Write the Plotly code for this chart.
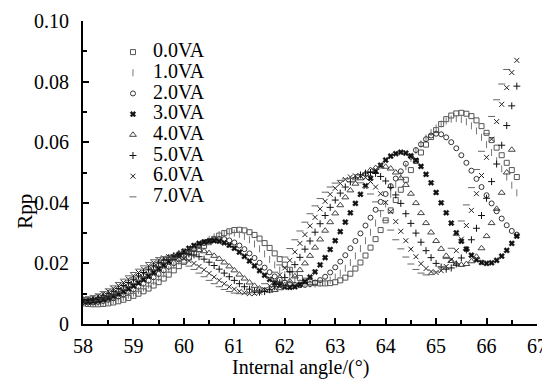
import numpy as np
import plotly.graph_objects as go

# Internal angle grid (degrees)
angle = np.round(np.arange(58.0, 66.65, 0.1), 1)

rpp_0va = [0.0068,0.0066,0.0065,0.0065,0.0066,0.0068,0.0071,0.0075,0.0080,0.0086,
           0.0093,0.0100,0.0108,0.0117,0.0127,0.0138,0.0150,0.0163,0.0177,0.0191,
           0.0205,0.0219,0.0233,0.0246,0.0258,0.0270,0.0281,0.0292,0.0300,0.0306,
           0.0310,0.0311,0.0309,0.0303,0.0294,0.0282,0.0267,0.0251,0.0233,0.0214,
           0.0196,0.0179,0.0164,0.0152,0.0143,0.0138,0.0135,0.0134,0.0134,0.0135,
           0.0138,0.0144,0.0153,0.0166,0.0183,0.0203,0.0226,0.0252,0.0280,0.0310,
           0.0342,0.0375,0.0409,0.0443,0.0476,0.0508,0.0538,0.0566,0.0592,0.0617,
           0.0640,0.0660,0.0676,0.0688,0.0695,0.0697,0.0694,0.0686,0.0672,0.0653,
           0.0631,0.0607,0.0582,0.0557,0.0532,0.0508,0.0485]

rpp_1va = [0.0070,0.0068,0.0067,0.0068,0.0070,0.0073,0.0077,0.0082,0.0088,0.0095,
           0.0102,0.0110,0.0119,0.0129,0.0140,0.0152,0.0165,0.0179,0.0193,0.0207,
           0.0221,0.0234,0.0247,0.0259,0.0270,0.0280,0.0288,0.0295,0.0299,0.0301,
           0.0300,0.0296,0.0289,0.0278,0.0264,0.0248,0.0231,0.0213,0.0195,0.0178,
           0.0163,0.0151,0.0142,0.0136,0.0133,0.0132,0.0132,0.0134,0.0138,0.0145,
           0.0155,0.0168,0.0184,0.0203,0.0225,0.0249,0.0275,0.0303,0.0333,0.0364,
           0.0396,0.0428,0.0460,0.0491,0.0520,0.0547,0.0572,0.0594,0.0614,0.0632,
           0.0647,0.0660,0.0670,0.0676,0.0678,0.0675,0.0667,0.0654,0.0637,0.0616,
           0.0592,0.0566,0.0539,0.0512,0.0485,0.0458,0.0433]

rpp_2va = [0.0072,0.0071,0.0071,0.0073,0.0076,0.0080,0.0085,0.0091,0.0098,0.0106,
           0.0114,0.0123,0.0133,0.0143,0.0154,0.0165,0.0177,0.0189,0.0201,0.0213,
           0.0225,0.0237,0.0248,0.0258,0.0267,0.0274,0.0279,0.0281,0.0280,0.0276,
           0.0269,0.0259,0.0247,0.0233,0.0218,0.0202,0.0186,0.0171,0.0157,0.0146,
           0.0137,0.0132,0.0129,0.0128,0.0129,0.0132,0.0137,0.0145,0.0156,0.0170,
           0.0187,0.0206,0.0227,0.0250,0.0274,0.0299,0.0325,0.0351,0.0377,0.0403,
           0.0429,0.0455,0.0480,0.0504,0.0529,0.0552,0.0574,0.0593,0.0610,0.0622,
           0.0628,0.0626,0.0616,0.0600,0.0580,0.0557,0.0532,0.0506,0.0479,0.0452,
           0.0425,0.0398,0.0372,0.0348,0.0326,0.0307,0.0295]

rpp_3va = [0.0075,0.0074,0.0075,0.0077,0.0081,0.0086,0.0092,0.0099,0.0107,0.0116,
           0.0126,0.0136,0.0147,0.0158,0.0170,0.0182,0.0194,0.0206,0.0218,0.0229,
           0.0240,0.0250,0.0259,0.0266,0.0271,0.0274,0.0275,0.0273,0.0268,0.0260,
           0.0250,0.0237,0.0223,0.0208,0.0192,0.0176,0.0161,0.0147,0.0135,0.0127,
           0.0122,0.0121,0.0123,0.0130,0.0140,0.0155,0.0172,0.0195,0.0219,0.0246,
           0.0275,0.0305,0.0336,0.0367,0.0398,0.0428,0.0456,0.0481,0.0505,0.0524,
           0.0541,0.0554,0.0562,0.0567,0.0564,0.0555,0.0540,0.0520,0.0494,0.0466,
           0.0434,0.0400,0.0367,0.0333,0.0301,0.0273,0.0247,0.0227,0.0212,0.0203,
           0.0200,0.0202,0.0210,0.0224,0.0243,0.0266,0.0290]

rpp_4va = [0.0078,0.0078,0.0080,0.0083,0.0088,0.0094,0.0101,0.0109,0.0118,0.0128,
           0.0139,0.0150,0.0161,0.0173,0.0184,0.0195,0.0206,0.0216,0.0225,0.0233,
           0.0239,0.0243,0.0245,0.0244,0.0240,0.0234,0.0225,0.0215,0.0203,0.0190,
           0.0177,0.0163,0.0150,0.0137,0.0126,0.0117,0.0112,0.0110,0.0112,0.0118,
           0.0128,0.0141,0.0157,0.0178,0.0200,0.0225,0.0252,0.0279,0.0308,0.0336,
           0.0365,0.0392,0.0418,0.0441,0.0463,0.0481,0.0496,0.0508,0.0515,0.0520,
           0.0519,0.0513,0.0500,0.0481,0.0459,0.0430,0.0399,0.0366,0.0333,0.0302,
           0.0274,0.0248,0.0225,0.0208,0.0198,0.0195,0.0198,0.0207,0.0222,0.0250,
           0.0290,0.0333,0.0380,0.0433,0.0500,0.0575]

rpp_5va = [0.0080,0.0081,0.0084,0.0088,0.0093,0.0100,0.0108,0.0117,0.0127,0.0137,
           0.0148,0.0159,0.0170,0.0181,0.0192,0.0202,0.0211,0.0219,0.0225,0.0230,
           0.0232,0.0231,0.0228,0.0222,0.0214,0.0204,0.0193,0.0181,0.0168,0.0156,
           0.0144,0.0133,0.0123,0.0115,0.0109,0.0105,0.0107,0.0113,0.0123,0.0136,
           0.0153,0.0173,0.0196,0.0220,0.0247,0.0274,0.0303,0.0331,0.0358,0.0385,
           0.0409,0.0432,0.0452,0.0469,0.0482,0.0492,0.0498,0.0500,0.0497,0.0487,
           0.0472,0.0451,0.0426,0.0398,0.0364,0.0332,0.0300,0.0270,0.0242,0.0219,
           0.0200,0.0188,0.0181,0.0185,0.0198,0.0218,0.0245,0.0278,0.0316,0.0358,
           0.0415,0.0470,0.0528,0.0590,0.0655,0.0720,0.0785]

rpp_6va = [0.0082,0.0084,0.0088,0.0093,0.0100,0.0108,0.0117,0.0127,0.0137,0.0148,
           0.0159,0.0170,0.0181,0.0192,0.0202,0.0211,0.0218,0.0222,0.0223,0.0221,
           0.0216,0.0209,0.0200,0.0190,0.0179,0.0167,0.0155,0.0144,0.0133,0.0123,
           0.0115,0.0108,0.0103,0.0100,0.0101,0.0105,0.0113,0.0126,0.0142,0.0162,
           0.0185,0.0210,0.0238,0.0266,0.0295,0.0324,0.0352,0.0380,0.0405,0.0428,
           0.0448,0.0464,0.0477,0.0485,0.0489,0.0489,0.0483,0.0470,0.0452,0.0430,
           0.0401,0.0371,0.0338,0.0306,0.0275,0.0247,0.0222,0.0199,0.0183,0.0173,
           0.0170,0.0176,0.0190,0.0212,0.0242,0.0280,0.0325,0.0375,0.0430,0.0490,
           0.0550,0.0610,0.0668,0.0725,0.0780,0.0830,0.0870]

rpp_7va = [0.0085,0.0088,0.0093,0.0099,0.0107,0.0116,0.0126,0.0137,0.0148,0.0159,
           0.0170,0.0181,0.0192,0.0203,0.0212,0.0219,0.0222,0.0221,0.0217,0.0210,
           0.0201,0.0191,0.0180,0.0168,0.0156,0.0144,0.0133,0.0123,0.0114,0.0107,
           0.0102,0.0100,0.0100,0.0103,0.0109,0.0119,0.0133,0.0150,0.0171,0.0195,
           0.0221,0.0249,0.0278,0.0307,0.0336,0.0364,0.0390,0.0414,0.0435,0.0452,
           0.0465,0.0474,0.0479,0.0480,0.0476,0.0466,0.0450,0.0429,0.0403,0.0374,
           0.0342,0.0310,0.0278,0.0248,0.0221,0.0198,0.0180,0.0168,0.0162,0.0163,
           0.0172,0.0190,0.0216,0.0250,0.0292,0.0340,0.0393,0.0450,0.0510,0.0570,
           0.0628,0.0685,0.0740,0.0792,0.0840]

series_names = ["0.0VA", "1.0VA", "2.0VA", "3.0VA", "4.0VA", "5.0VA", "6.0VA", "7.0VA"]
series_values = [rpp_0va, rpp_1va, rpp_2va, rpp_3va, rpp_4va, rpp_5va, rpp_6va, rpp_7va]

x_ticks = [58, 59, 60, 61, 62, 63, 64, 65, 66, 67]
y_ticks = [0, 0.02, 0.04, 0.06, 0.08, 0.10]
y_ticklabels = ["0", "0.02", "0.04", "0.06", "0.08", "0.10"]

styles = [
    dict(symbol="square-open", size=5, color="#555555", width=1),
    dict(symbol="line-ns", size=5, color="#777777", width=1),
    dict(symbol="circle-open", size=5, color="#333333", width=1),
    dict(symbol="x", size=5, color="#111111", width=0.5),
    dict(symbol="triangle-up-open", size=6, color="#444444", width=1),
    dict(symbol="cross-thin", size=5, color="#111111", width=1),
    dict(symbol="x-thin", size=5, color="#222222", width=1),
    dict(symbol="line-ew", size=5, color="#666666", width=1),
]

FONT = "Liberation Serif, Times New Roman, serif"

fig = go.Figure()
for name, vals, st in zip(series_names, series_values, styles):
    fig.add_trace(go.Scatter(
        x=angle[:len(vals)], y=vals, mode="markers",
        name="<span style='font-size:20px'>" + name + "</span>",
        marker=dict(symbol=st["symbol"], size=st["size"], color=st["color"],
                    line=dict(color=st["color"], width=st["width"])),
    ))

# The page body adds an 8 px offset, so the figure is 8 px smaller on each axis
fig.update_layout(
    width=542, height=371,
    margin=dict(l=75, r=13, t=13, b=55, autoexpand=False),
    paper_bgcolor="white", plot_bgcolor="white",
    font=dict(family=FONT, color="black", size=20),
    showlegend=True,
    legend=dict(x=0.066, y=0.948, xanchor="left", yanchor="top",
                bgcolor="rgba(0,0,0,0)", borderwidth=0,
                font=dict(family=FONT, size=13.6, color="black"),
                itemwidth=30, tracegroupgap=0),
    xaxis=dict(range=[58, 67], tickvals=x_ticks, showgrid=False, zeroline=False,
               automargin=False,
               showline=True, linecolor="black", linewidth=2,
               ticks="inside", ticklen=6, tickwidth=2, tickcolor="black",
               minor=dict(ticks="inside", ticklen=4, tickwidth=2, tickcolor="black", dtick=0.5),
               tickfont=dict(family=FONT, size=20, color="black"),
               ticklabelstandoff=3),
    yaxis=dict(range=[0, 0.1], tickvals=y_ticks, ticktext=y_ticklabels,
               showgrid=False, zeroline=False, automargin=False,
               showline=True, linecolor="black", linewidth=2,
               ticks="inside", ticklen=6, tickwidth=2, tickcolor="black",
               minor=dict(ticks="inside", ticklen=4, tickwidth=2, tickcolor="black", dtick=0.01),
               tickfont=dict(family=FONT, size=20, color="black"),
               ticklabelstandoff=8),
    annotations=[
        dict(text="Rpp", xref="paper", yref="paper", x=-0.128, y=0.373,
             xanchor="center", yanchor="middle",
             showarrow=False, textangle=-90, font=dict(family=FONT, size=21, color="black")),
        dict(text="Internal angle/(°)", xref="paper", yref="paper", x=0.478, y=-0.145,
             xanchor="center", yanchor="middle",
             showarrow=False, font=dict(family=FONT, size=20, color="black")),
    ],
)

fig.write_html("out.html")
